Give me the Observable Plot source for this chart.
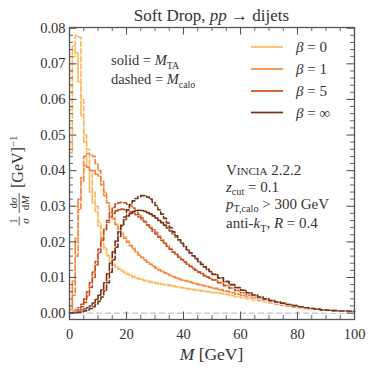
<!DOCTYPE html>
<html><head><meta charset="utf-8">
<script src="https://cdn.jsdelivr.net/npm/d3@7"></script>
<script src="https://cdn.jsdelivr.net/npm/@observablehq/plot@0.6"></script>
<style>html,body{margin:0;padding:0;background:#fff}svg{display:block}</style>
</head><body><div id="chart"></div>
<script>
// ---- data ----
const binEdges = [0,1,2,3,4,5,6,7,8,9,10,11,12,13,14,15,16,17,18,19,20,21,22,23,24,25,26,27,28,29,30,31,32,33,34,35,36,37,38,39,40,41,42,43,44,45,46,47,48,49,50,
  52,54,56,58,60,62,64,66,68,70,72,74,76,78,80,82,84,86,88,90,92,94,96,98,100];
const betaLabels = ["0","1","5","∞"];
const betaColors = ["#fdb75a","#f4853a","#c94c18","#7a3013"];
const b0Solid = [0.057,0.075,0.073,0.065,0.0555,0.048,0.041,0.034,0.031,0.0285,
  0.0245,0.021,0.018,0.016,0.0145,0.0137,0.013,0.0125,0.012,0.0115,
  0.0111,0.0107,0.0103,0.0100,0.0097,0.0095,0.0093,0.0091,0.0089,0.0087,
  0.0085,0.0084,0.0082,0.0081,0.0080,0.0078,0.0077,0.0075,0.0074,0.0072,
  0.0071,0.0069,0.0068,0.0067,0.0066,0.0065,0.0063,0.0062,0.0061,0.0060,
  0.0058,0.0056,0.0053,0.0050,0.0047,0.0044,0.0041,0.0038,0.0035,0.0032,
  0.0029,0.0026,0.0023,0.0020,0.0017,0.0014,0.0012,0.0010,0.0008,0.0007,
  0.0006,0.0006,0.0005,0.0005,0.0005];
const b0Dashed = [0.045,0.072,0.078,0.0775,0.060,0.050,0.046,0.040,0.034,0.030,
  0.0255,0.0215,0.0185,0.0162,0.0146,0.0136,0.0129,0.0123,0.0118,0.0113,
  0.0109,0.0105,0.0101,0.0098,0.0096,0.0093,0.0091,0.0089,0.0087,0.0085,
  0.0084,0.0082,0.0081,0.0079,0.0078,0.0077,0.0075,0.0074,0.0072,0.0071,
  0.0070,0.0068,0.0067,0.0066,0.0064,0.0063,0.0062,0.0061,0.0060,0.0059,
  0.0057,0.0055,0.0052,0.0049,0.0046,0.0043,0.0040,0.0037,0.0034,0.0031,
  0.0028,0.0025,0.0022,0.0019,0.0016,0.0014,0.0011,0.0009,0.0008,0.0007,
  0.0006,0.0005,0.0005,0.0005,0.0004];
const b1Solid = [0.002,0.009,0.021,0.032,0.038,0.0415,0.041,0.040,0.040,0.039,
  0.0385,0.036,0.033,0.031,0.0285,0.0268,0.025,0.0238,0.0225,0.0213,
  0.0202,0.0191,0.0182,0.0173,0.0164,0.0157,0.0150,0.0144,0.0138,0.0132,
  0.0127,0.0122,0.0118,0.0114,0.0110,0.0106,0.0103,0.0100,0.0097,0.0094,
  0.0092,0.0090,0.0088,0.0085,0.0083,0.0081,0.0079,0.0077,0.0075,0.0073,
  0.0070,0.0066,0.0062,0.0058,0.0054,0.0050,0.0046,0.0042,0.0038,0.0034,
  0.0030,0.0027,0.0024,0.0020,0.0017,0.0014,0.0012,0.0010,0.0009,0.0008,
  0.0007,0.0006,0.0006,0.0005,0.0005];
const b1Dashed = [0.001,0.005,0.016,0.029,0.037,0.044,0.0448,0.0445,0.044,0.042,
  0.040,0.037,0.034,0.031,0.0283,0.0265,0.0248,0.0235,0.0222,0.0210,
  0.0199,0.0189,0.0180,0.0171,0.0163,0.0156,0.0149,0.0143,0.0137,0.0131,
  0.0126,0.0121,0.0117,0.0113,0.0109,0.0105,0.0102,0.0099,0.0096,0.0093,
  0.0091,0.0089,0.0087,0.0084,0.0082,0.0080,0.0078,0.0076,0.0074,0.0072,
  0.0069,0.0065,0.0061,0.0057,0.0053,0.0049,0.0045,0.0041,0.0037,0.0033,
  0.0029,0.0026,0.0023,0.0020,0.0017,0.0014,0.0012,0.0010,0.0009,0.0008,
  0.0007,0.0006,0.0005,0.0005,0.0005];
const b5Solid = [0.0002,0.0005,0.001,0.0015,0.0025,0.004,0.006,0.0085,0.0115,0.0145,
  0.018,0.021,0.0235,0.0255,0.027,0.028,0.0287,0.029,0.0292,0.029,
  0.0288,0.0285,0.0281,0.0276,0.027,0.0263,0.0256,0.0248,0.0241,0.0234,
  0.0226,0.0216,0.0206,0.0197,0.0189,0.0181,0.0173,0.0166,0.0159,0.0151,
  0.0144,0.0138,0.0132,0.0126,0.0121,0.0116,0.0111,0.0106,0.0102,0.0098,
  0.0094,0.0086,0.0078,0.0071,0.0064,0.0058,0.0052,0.0046,0.0041,0.0037,
  0.0035,0.0031,0.0028,0.0024,0.0021,0.0018,0.0015,0.0012,0.0011,0.0009,
  0.0008,0.0007,0.0006,0.0006,0.0005];
const b5Dashed = [0.0001,0.0003,0.0006,0.001,0.0018,0.003,0.0048,0.0072,0.010,0.0135,
  0.017,0.0205,0.0235,0.026,0.0282,0.0297,0.0306,0.031,0.0311,0.031,
  0.0306,0.0301,0.0295,0.0286,0.0277,0.0267,0.0257,0.0247,0.0238,0.0229,
  0.0222,0.0213,0.0204,0.0195,0.0187,0.0179,0.0171,0.0164,0.0157,0.0150,
  0.0143,0.0137,0.0131,0.0125,0.0120,0.0115,0.0110,0.0105,0.0101,0.0097,
  0.0093,0.0085,0.0077,0.0070,0.0063,0.0057,0.0051,0.0046,0.0041,0.0037,
  0.0034,0.0031,0.0027,0.0024,0.0021,0.0018,0.0015,0.0012,0.0010,0.0009,
  0.0008,0.0007,0.0006,0.0005,0.0005];
const bInfSolid = [0.0001,0.0002,0.0003,0.0005,0.0008,0.0011,0.0015,0.002,0.0028,0.0038,
  0.005,0.0065,0.0085,0.011,0.014,0.0172,0.0202,0.0228,0.0248,0.0263,
  0.0273,0.028,0.0285,0.0288,0.0289,0.0288,0.0286,0.0282,0.0278,0.0273,
  0.0267,0.026,0.0254,0.0247,0.0239,0.0231,0.0223,0.0214,0.0205,0.0196,
  0.0187,0.0178,0.0169,0.016,0.0152,0.0144,0.0136,0.0129,0.0122,0.0116,
  0.0108,0.0098,0.0088,0.0079,0.0071,0.0064,0.0057,0.005,0.0044,0.0039,
  0.0035,0.0031,0.0028,0.0024,0.0021,0.0018,0.0015,0.0013,0.0011,0.0009,
  0.0008,0.0007,0.0006,0.0006,0.0005];
const bInfDashed = [0,0.0001,0.0001,0.0002,0.0004,0.0006,0.0009,0.0013,0.0018,0.0025,
  0.0033,0.0045,0.0062,0.0085,0.0115,0.015,0.0185,0.0215,0.0245,0.027,
  0.029,0.0305,0.0315,0.0322,0.0327,0.033,0.033,0.0326,0.032,0.0311,
  0.0302,0.029,0.0278,0.0266,0.0253,0.024,0.0228,0.0217,0.0206,0.0196,
  0.0187,0.0178,0.0169,0.0161,0.0153,0.0145,0.0137,0.013,0.0123,0.0117,
  0.0109,0.0099,0.0089,0.0080,0.0072,0.0064,0.0057,0.0051,0.0045,0.0040,
  0.0035,0.0031,0.0028,0.0024,0.0021,0.0018,0.0015,0.0013,0.0011,0.0009,
  0.0008,0.0007,0.0006,0.0006,0.0005];
const xMajorTicks = [0,20,40,60,80,100];
const xMinorTicks = [5,10,15,25,30,35,45,50,55,65,70,75,85,90,95];
const yMajorTicks = [0,0.01,0.02,0.03,0.04,0.05,0.06,0.07,0.08];
const yMinorTicks = [0.002,0.004,0.006,0.008,0.012,0.014,0.016,0.018,0.022,0.024,0.026,0.028,
  0.032,0.034,0.036,0.038,0.042,0.044,0.046,0.048,0.052,0.054,0.056,0.058,0.062,0.064,0.066,0.068,0.072,0.074,0.076,0.078];

// ---- chart ----
const W = 374, H = 374, mL = 69, mR = 20, mT = 27, mB = 55;
const fw = W - mL - mR, fh = H - mT - mB;
const FONT = "'Liberation Serif', 'DejaVu Serif', serif";
const INK = "#333";
const FRAME = "#555";

function steps(vals) {
  const pts = vals.map((v, i) => ({x: binEdges[i], y: v}));
  pts.push({x: binEdges[binEdges.length - 1], y: vals[vals.length - 1]});
  return pts;
}
const series = [
  {vals: b0Solid, c: 0, dash: false}, {vals: b0Dashed, c: 0, dash: true},
  {vals: b1Solid, c: 1, dash: false}, {vals: b1Dashed, c: 1, dash: true},
  {vals: b5Solid, c: 2, dash: false}, {vals: b5Dashed, c: 2, dash: true},
  {vals: bInfSolid, c: 3, dash: false}, {vals: bInfDashed, c: 3, dash: true}
];
const lineMarks = [];
for (const s of series) {
  const d = steps(s.vals);
  lineMarks.push(Plot.line(d, {x: "x", y: "y", curve: "step-after", stroke: "white", strokeWidth: 3, strokeOpacity: 0.55}));
  lineMarks.push(Plot.line(d, {x: "x", y: "y", curve: "step-after", stroke: betaColors[s.c], strokeWidth: 1.6,
    strokeDasharray: s.dash ? "5,2.5" : null}));
}

const chart = Plot.plot({
  width: W, height: H,
  marginLeft: mL, marginRight: mR, marginTop: mT, marginBottom: mB,
  style: {fontFamily: FONT, fontSize: "14.5px", color: INK, background: "white"},
  x: {domain: [0, 100], label: null},
  y: {domain: [-0.0018, 0.0802], label: null},
  marks: [
    Plot.ruleY([0], {stroke: "#c4c4c4", strokeWidth: 1.2, strokeDasharray: "6,3"}),
    ...lineMarks,
    Plot.frame({stroke: FRAME, strokeWidth: 1.3}),
    Plot.tickX(xMajorTicks, {x: d => d, stroke: FRAME, strokeWidth: 1.1, insetTop: fh - 7.5}),
    Plot.tickX(xMajorTicks, {x: d => d, stroke: FRAME, strokeWidth: 1.1, insetBottom: fh - 7.5}),
    Plot.tickX(xMinorTicks, {x: d => d, stroke: FRAME, strokeWidth: 0.9, insetTop: fh - 4}),
    Plot.tickX(xMinorTicks, {x: d => d, stroke: FRAME, strokeWidth: 0.9, insetBottom: fh - 4}),
    Plot.tickY(yMajorTicks, {y: d => d, stroke: FRAME, strokeWidth: 1.1, insetRight: fw - 7.5}),
    Plot.tickY(yMajorTicks, {y: d => d, stroke: FRAME, strokeWidth: 1.1, insetLeft: fw - 7.5}),
    Plot.tickY(yMinorTicks, {y: d => d, stroke: FRAME, strokeWidth: 0.9, insetRight: fw - 4}),
    Plot.tickY(yMinorTicks, {y: d => d, stroke: FRAME, strokeWidth: 0.9, insetLeft: fw - 4}),
    Plot.axisX(xMajorTicks, {anchor: "bottom", tickSize: 0, tickPadding: 9, tickFormat: d => String(d), label: null, fill: INK}),
    Plot.axisY(yMajorTicks, {anchor: "left", tickSize: 0, tickPadding: 4, tickFormat: d3.format(".2f"), label: null, fill: INK})
  ]
});
document.getElementById("chart").appendChild(chart);

// ---- annotations (text with math styling) ----
const svg = d3.select(chart);
function rich(parent, x, y, size, parts, anchor) {
  const t = parent.append("text").attr("x", x).attr("y", y)
    .attr("font-size", size).attr("font-family", FONT).attr("fill", INK)
    .attr("text-anchor", anchor || "start");
  let off = 0;
  for (const p of parts) {
    const target = p.sub ? size * 0.25 : p.sup ? -size * 0.38 : 0;
    const s = t.append("tspan").text(p.t).attr("dy", target - off);
    off = target;
    if (p.i) s.attr("font-style", "italic");
    if (p.sub || p.sup) s.attr("font-size", size * 0.68);
    if (p.sc) s.attr("font-variant", "small-caps");
  }
  return t;
}
// title
rich(svg, (mL + W - mR) / 2, 21, 17, [{t: "Soft Drop, "}, {t: "pp", i: true}, {t: " → dijets"}], "middle");
// x label
rich(svg, (mL + W - mR) / 2, 360, 17.5, [{t: "M", i: true}, {t: " [GeV]"}], "middle");
// y label (rotated)
const yl = svg.append("g").attr("transform", "translate(21,176) rotate(-90)");
function frac(g, cx, half, num, den, size) {
  rich(g, cx, -4.5, size, num, "middle");
  rich(g, cx, 7.5, size, den, "middle");
  g.append("line").attr("x1", cx - half).attr("x2", cx + half).attr("y1", -1.8).attr("y2", -1.8)
    .attr("stroke", INK).attr("stroke-width", 0.8);
}
frac(yl, -45, 4.5, [{t: "1"}], [{t: "σ", i: true}], 11);
frac(yl, -27, 10, [{t: "d"}, {t: "σ", i: true}], [{t: "d"}, {t: "M", i: true}], 11);
rich(yl, -12, 2, 16, [{t: "[GeV]"}, {t: "−1", sup: true}], "start");

// solid/dashed note
rich(svg, 111, 65, 14.5, [{t: "solid = "}, {t: "M", i: true}, {t: "TA", sub: true}]);
rich(svg, 111, 84, 14.5, [{t: "dashed = "}, {t: "M", i: true}, {t: "calo", sub: true}]);

// legend
const legY = [47, 69, 91, 112.5];
betaLabels.forEach((b, i) => {
  svg.append("line").attr("x1", 251).attr("x2", 283).attr("y1", legY[i]).attr("y2", legY[i])
    .attr("stroke", betaColors[i]).attr("stroke-width", 1.7);
  rich(svg, 296, legY[i] + 5, 15, [{t: "β", i: true}, {t: " = " + b}]);
});

// Vincia block
rich(svg, 226, 175, 15, [{t: "Vincia", sc: true}, {t: " 2.2.2"}]);
rich(svg, 226, 191.5, 15, [{t: "z", i: true}, {t: "cut", sub: true}, {t: " = 0.1"}]);
rich(svg, 226, 208.5, 15, [{t: "p", i: true}, {t: "T,calo", sub: true}, {t: " > 300 GeV"}]);
rich(svg, 226, 228, 15, [{t: "anti-"}, {t: "k", i: true}, {t: "T", sub: true}, {t: ", "}, {t: "R", i: true}, {t: " = 0.4"}]);
</script>
</body></html>
